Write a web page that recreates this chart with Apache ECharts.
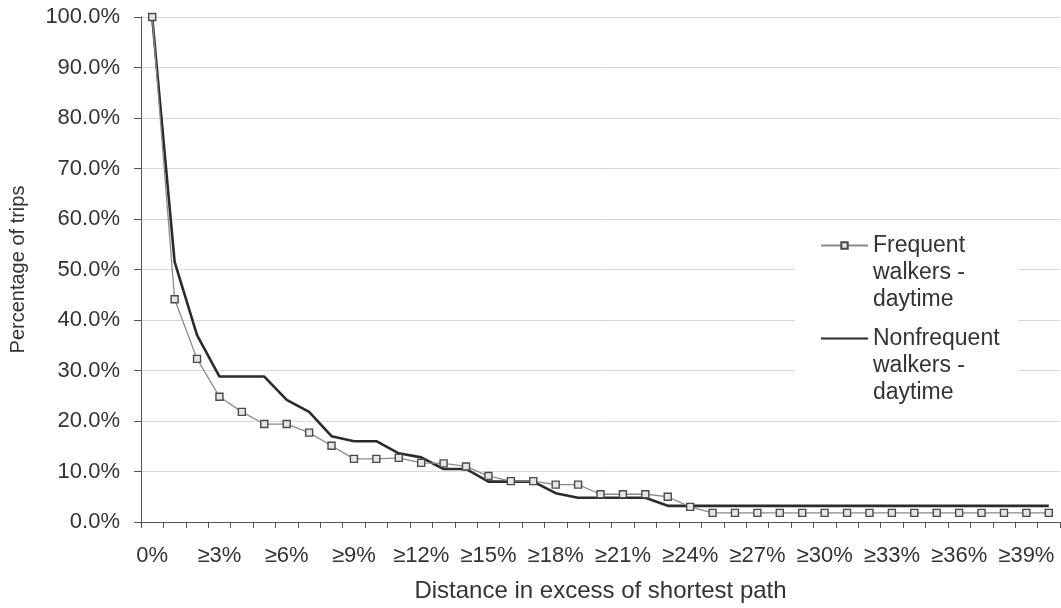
<!DOCTYPE html>
<html>
<head>
<meta charset="utf-8">
<script src="https://cdn.jsdelivr.net/npm/echarts@6/dist/echarts.min.js"></script>
<style>
html,body{margin:0;padding:0;background:#fff;}
#chart{width:1061px;height:608px;}
</style>
</head>
<body>
<div id="chart"></div>
<script>
const categories = ['0%','≥1%','≥2%','≥3%','≥4%','≥5%','≥6%','≥7%','≥8%','≥9%','≥10%','≥11%','≥12%','≥13%','≥14%','≥15%','≥16%','≥17%','≥18%','≥19%','≥20%','≥21%','≥22%','≥23%','≥24%','≥25%','≥26%','≥27%','≥28%','≥29%','≥30%','≥31%','≥32%','≥33%','≥34%','≥35%','≥36%','≥37%','≥38%','≥39%','≥40%'];
const frequentWalkers = [100, 44.1, 32.3, 24.8, 21.8, 19.4, 19.4, 17.7, 15.1, 12.5, 12.5, 12.7, 11.7, 11.6, 11.0, 9.1, 8.1, 8.1, 7.4, 7.4, 5.5, 5.5, 5.5, 5.0, 3.0, 1.8, 1.8, 1.8, 1.8, 1.8, 1.8, 1.8, 1.8, 1.8, 1.8, 1.8, 1.8, 1.8, 1.8, 1.8, 1.8];
const nonfrequentWalkers = [100, 51.5, 37.0, 28.8, 28.8, 28.8, 24.2, 21.8, 17.0, 16.0, 16.0, 13.6, 12.8, 10.5, 10.5, 8.0, 8.0, 8.0, 5.7, 4.8, 4.8, 4.8, 4.8, 3.2, 3.2, 3.2, 3.2, 3.2, 3.2, 3.2, 3.2, 3.2, 3.2, 3.2, 3.2, 3.2, 3.2, 3.2, 3.2, 3.2, 3.2];
const seriesNames = ['Frequent walkers - daytime', 'Nonfrequent walkers - daytime'];
const legendLines = {
  'Frequent walkers - daytime': ['Frequent', 'walkers -', 'daytime'],
  'Nonfrequent walkers - daytime': ['Nonfrequent', 'walkers -', 'daytime']
};
const xAxisTitle = 'Distance in excess of shortest path';
const yAxisTitle = 'Percentage of trips';

const FONT = "'Liberation Sans', Arial, sans-serif";
const chart = echarts.init(document.getElementById('chart'), null, {renderer: 'canvas'});
chart.setOption({
  animation: false,
  backgroundColor: '#ffffff',
  textStyle: {fontFamily: FONT},
  grid: {left: 141, right: 1, top: 17, bottom: 86, containLabel: false, outerBoundsMode: 'none'},
  graphic: [{
    type: 'rect',
    z: 1,
    silent: true,
    shape: {x: 795, y: 228, width: 223, height: 184},
    style: {fill: '#ffffff'}
  }],
  legend: {
    orient: 'vertical',
    left: 795,
    top: 178,
    z: 5,
    backgroundColor: 'transparent',
    padding: [0, 14, 0, 25],
    itemGap: -42,
    itemWidth: 47,
    itemHeight: 8,
    data: [
      {name: seriesNames[0]},
      {name: seriesNames[1], itemStyle: {color: 'rgba(0,0,0,0)', borderColor: 'rgba(0,0,0,0)', borderWidth: 0}}
    ],
    // two empty lines above keep the icon level with the first text line
    formatter: function (n) { return '\n\n' + legendLines[n].join('\n'); },
    textStyle: {fontFamily: FONT, fontSize: 23, color: '#333', lineHeight: 27}
  },
  xAxis: {
    type: 'category',
    data: categories,
    boundaryGap: true,
    name: xAxisTitle,
    nameLocation: 'middle',
    nameGap: 57,
    nameTextStyle: {fontFamily: FONT, fontSize: 24, color: '#333'},
    axisLine: {show: true, lineStyle: {color: '#555', width: 1}},
    axisTick: {show: true, interval: 0, length: 6, lineStyle: {color: '#555'}},
    axisLabel: {interval: 2, fontFamily: FONT, fontSize: 22, color: '#333', margin: 23},
    splitLine: {show: false}
  },
  yAxis: {
    type: 'value',
    min: 0, max: 100, interval: 10,
    name: yAxisTitle,
    nameLocation: 'middle',
    nameGap: 113,
    nameRotate: 90,
    nameTextStyle: {fontFamily: FONT, fontSize: 20, color: '#333'},
    axisLine: {show: true, lineStyle: {color: '#555', width: 1}},
    axisTick: {show: true, length: 7, lineStyle: {color: '#555'}},
    axisLabel: {fontFamily: FONT, fontSize: 22, color: '#333', margin: 21,
      formatter: function (v) { return v.toFixed(1) + '%'; }},
    splitLine: {show: true, lineStyle: {color: '#d8d8d8', width: 1}}
  },
  series: [
    {
      name: seriesNames[0],
      type: 'line',
      data: frequentWalkers,
      symbol: 'rect',
      symbolSize: 7,
      showAllSymbol: true,
      lineStyle: {color: '#8a8a8a', width: 1.3},
      itemStyle: {color: '#e6e6e6', borderColor: '#4a4a4a', borderWidth: 1.4},
      z: 3
    },
    {
      name: seriesNames[1],
      type: 'line',
      data: nonfrequentWalkers,
      symbol: 'none',
      lineStyle: {color: '#2b2b2b', width: 2.6},
      itemStyle: {color: '#2b2b2b'},
      z: 2
    }
  ]
});
</script>
</body>
</html>
